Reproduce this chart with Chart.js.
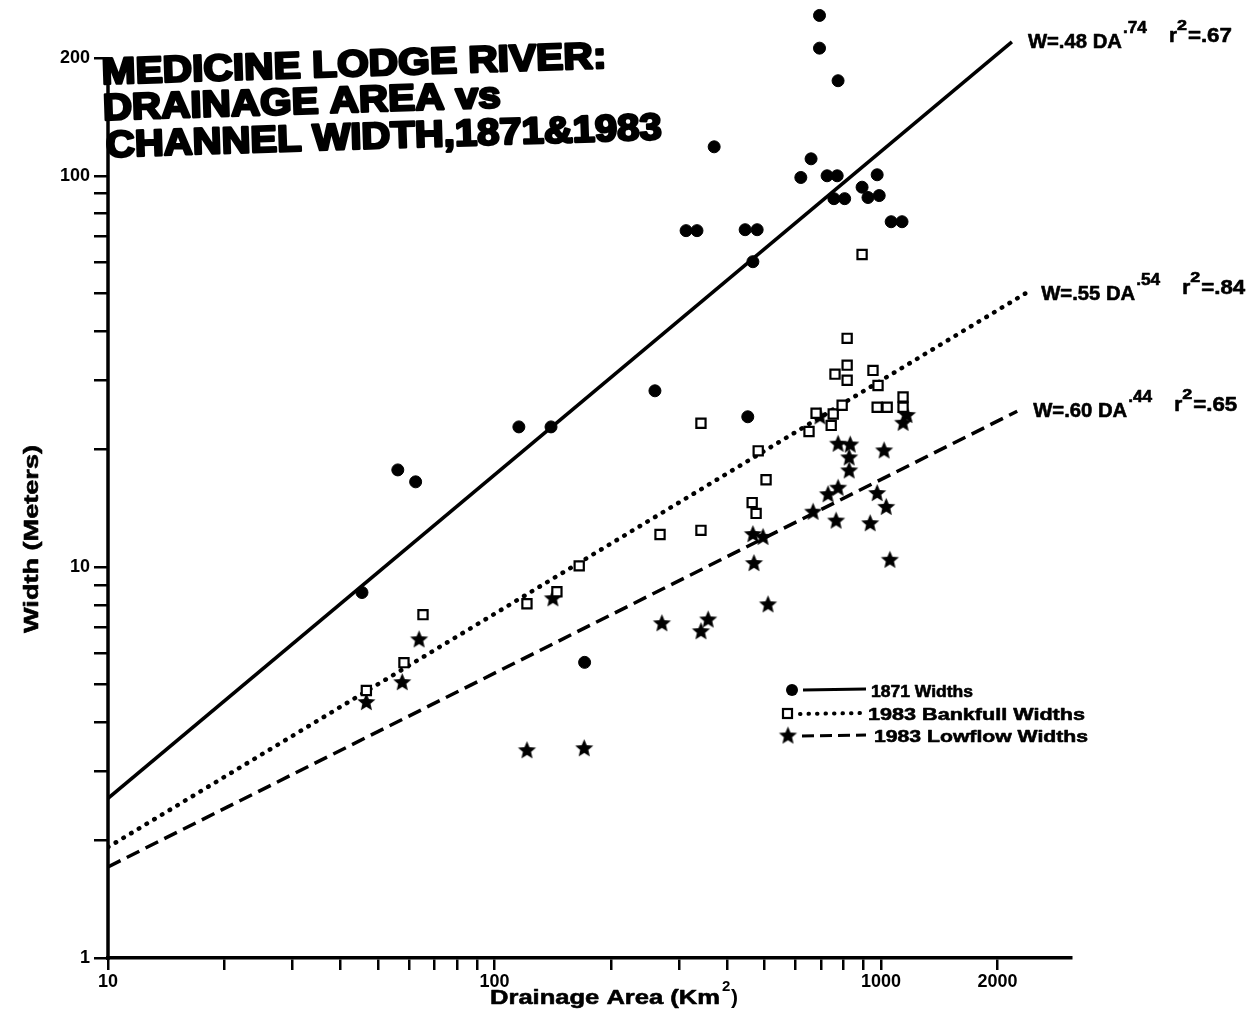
<!DOCTYPE html>
<html>
<head>
<meta charset="utf-8">
<script src="https://cdn.jsdelivr.net/npm/chart.js@4.4.0/dist/chart.umd.min.js"></script>
<style>
  html, body { margin: 0; background: #fff; }
</style>
</head>
<body>
<canvas id="chart" width="1247" height="1013"></canvas>
<script>
// 1871 widths (drainage area km2, width m)
var da1871 = [45.4, 56.2, 62.5, 115.6, 140, 171, 260, 313, 334, 370, 445, 478, 466, 452, 620,
              659, 693, 693, 774, 725, 770, 755, 805, 893, 925, 977, 989, 1062, 1133];
var w1871  = [8.6, 17.7, 16.5, 22.8, 22.8, 5.7, 28.2, 72.4, 72.4, 118.6, 72.8, 72.8, 60.3, 24.2, 99,
              110.5, 257, 212, 175, 100, 100, 87.4, 87.4, 93.5, 88, 100.6, 89, 76.3, 76.3];

// 1983 bankfull widths
var daBank = [46.6, 58.3, 65.3, 121.3, 145, 165.6, 268, 342, 342, 464, 475, 504, 481, 651, 679,
              743, 752, 793, 760, 817, 817, 817, 953, 982, 977, 1037, 1140, 1140, 893];
var wBank  = [4.83, 5.69, 7.55, 8.05, 8.64, 10.06, 12.1, 12.4, 23.3, 14.6, 13.7, 16.7, 19.8, 22.2, 24.7,
              23.0, 24.6, 25.9, 31.1, 32.8, 30.0, 38.4, 31.8, 29.1, 25.6, 25.6, 27.2, 25.6, 62.9];

// 1983 lowflow widths
var daLow = [46.6, 57.7, 63.8, 121.3, 170.6, 141.6, 271, 342, 357, 510, 469, 466, 495, 667, 729,
             774, 765, 937, 1054, 977, 1031, 1018, 774, 832, 827, 827, 1140, 1167, 695];
var wLow  = [4.50, 5.06, 6.51, 3.39, 3.43, 8.29, 7.16, 6.83, 7.32, 8.0, 10.2, 12.1, 11.9, 13.8, 15.3,
             15.9, 13.1, 12.9, 10.4, 15.4, 14.2, 19.8, 20.6, 20.5, 19.0, 17.6, 23.3, 24.4, 24.2];

// fitted lines (end points as drawn)
var fit1871DA = [10, 2180], fit1871W = [2.56, 220];
var fitBankDA = [10, 2360], fitBankW = [1.92, 50];
var fitLowDA  = [10, 2250], fitLowW  = [1.71, 25];

var equations = [
  ['.48', '.74', '.67'],
  ['.55', '.54', '.84'],
  ['.60', '.44', '.65']
];

var xTicks = [10, 20, 30, 40, 50, 60, 70, 80, 90, 100, 200, 300, 400, 500, 600, 700, 800, 900, 1000, 2000];
var xLabels = [10, 100, 1000, 2000];
var yTicks = [1, 2, 3, 4, 5, 6, 7, 8, 9, 10, 20, 30, 40, 50, 60, 70, 80, 90, 100, 200];
var yLabels = [1, 10, 100, 200];
var yAxisTop = 200;

var FONT = "'Liberation Sans Narrow', 'Liberation Sans', Arial, sans-serif";
var WIDE = "'Liberation Sans', Arial, sans-serif";

function pts(xs, ys) {
  return xs.map(function (x, i) { return { x: x, y: ys[i] }; });
}

function makeStar(r) {
  var c = document.createElement('canvas');
  var s = Math.ceil(r * 2 + 2);
  c.width = c.height = s;
  var g = c.getContext('2d');
  g.fillStyle = '#000';
  g.beginPath();
  for (var i = 0; i < 10; i++) {
    var rad = i % 2 ? r * 0.45 : r;
    var a = -Math.PI / 2 + i * Math.PI / 5;
    g.lineTo(s / 2 + rad * Math.cos(a), s / 2 + rad * Math.sin(a));
  }
  g.closePath();
  g.fill();
  return c;
}
var star = makeStar(9.5);

function fitText(ctx, text, x, y, width, font, heavy) {
  ctx.save();
  ctx.font = font;
  var w = ctx.measureText(text).width;
  ctx.translate(x, y);
  ctx.scale(width / w, 1);
  if (heavy) {
    ctx.lineWidth = heavy;
    ctx.lineJoin = 'round';
    ctx.strokeText(text, 0, 0);
  }
  ctx.fillText(text, 0, 0);
  ctx.restore();
  return width;
}

var annotations = {
  id: 'annotations',
  afterDraw: function (chart) {
    var ctx = chart.ctx;
    var xs = chart.scales.x, ys = chart.scales.y;
    ctx.save();
    ctx.fillStyle = '#000';
    ctx.strokeStyle = '#000';
    ctx.textBaseline = 'alphabetic';

    // y axis line, ending at the top tick
    ctx.lineWidth = 3.5;
    ctx.beginPath();
    ctx.moveTo(xs.left, ys.getPixelForValue(1) + 2);
    ctx.lineTo(xs.left, ys.getPixelForValue(yAxisTop) - 1);
    ctx.stroke();

    // title
    ctx.save();
    ctx.translate(102, 84);
    ctx.rotate(-0.032);
    var tf = 'bold 37px ' + WIDE;
    fitText(ctx, 'MEDICINE LODGE RIVER:', 0, 0, 505, tf, 2.6);
    fitText(ctx, 'DRAINAGE AREA vs', 0, 36, 398, tf, 2.6);
    fitText(ctx, 'CHANNEL WIDTH,1871&1983', 2, 73, 556, tf, 2.6);
    ctx.restore();

    // axis titles
    var af = 'bold 21px ' + FONT;
    fitText(ctx, 'Drainage Area (Km', 490, 1004, 230, af, 0.6);
    ctx.font = 'bold 15px ' + FONT;
    ctx.fillText('2', 722, 991);
    ctx.font = af;
    ctx.fillText(')', 731, 1004);

    ctx.save();
    ctx.translate(38, 633);
    ctx.rotate(-Math.PI / 2);
    fitText(ctx, 'Width (Meters)', 0, 0, 188, af, 0.6);
    ctx.restore();

    // equations at the line ends
    var ends = [[fit1871DA[1], fit1871W[1]], [fitBankDA[1], fitBankW[1]], [fitLowDA[1], fitLowW[1]]];
    ends.forEach(function (e, i) {
      var px = xs.getPixelForValue(e[0]) + 16;
      var py = ys.getPixelForValue(e[1]) + 6;
      var eq = equations[i];
      var w = fitText(ctx, 'W=' + eq[0] + ' DA', px, py, 94, 'bold 20px ' + FONT, 0.6);
      fitText(ctx, eq[1], px + w + 1, py - 15, 24, 'bold 17px ' + FONT, 0.6);
      fitText(ctx, 'r', px + 141, py - 6, 8, 'bold 20px ' + FONT, 0.6);
      fitText(ctx, '2', px + 149, py - 18, 10, 'bold 15px ' + FONT, 0.6);
      fitText(ctx, '=' + eq[2], px + 160, py - 6, 44, 'bold 20px ' + FONT, 0.6);
    });

    // legend
    var lf = 'bold 17px ' + WIDE;
    ctx.beginPath();
    ctx.arc(792, 690, 6, 0, Math.PI * 2);
    ctx.fill();
    ctx.lineWidth = 3;
    ctx.beginPath();
    ctx.moveTo(803, 690); ctx.lineTo(866, 689);
    ctx.stroke();
    fitText(ctx, '1871 Widths', 871, 697, 102, lf, 0.6);

    ctx.lineWidth = 2.2;
    ctx.fillStyle = '#fff';
    ctx.fillRect(783, 709, 9, 9);
    ctx.strokeRect(783, 709, 9, 9);
    ctx.fillStyle = '#000';
    ctx.save();
    ctx.lineWidth = 4;
    ctx.lineCap = 'round';
    ctx.setLineDash([0.5, 8]);
    ctx.beginPath();
    ctx.moveTo(800, 714); ctx.lineTo(866, 713);
    ctx.stroke();
    ctx.restore();
    fitText(ctx, '1983 Bankfull Widths', 868, 720, 217, lf, 0.6);

    ctx.drawImage(star, 788 - star.width / 2, 736 - star.height / 2);
    ctx.save();
    ctx.lineWidth = 3;
    ctx.setLineDash([12, 6]);
    ctx.beginPath();
    ctx.moveTo(802, 736); ctx.lineTo(866, 735);
    ctx.stroke();
    ctx.restore();
    fitText(ctx, '1983 Lowflow Widths', 874, 742, 214, lf, 0.6);

    ctx.restore();
  }
};

var tickFont = { family: FONT, size: 18, weight: 'bold' };

new Chart(document.getElementById('chart'), {
  type: 'scatter',
  data: {
    datasets: [
      {
        label: '1871 Widths',
        data: pts(da1871, w1871),
        pointStyle: 'circle',
        pointRadius: 6,
        backgroundColor: '#000',
        borderColor: '#000',
        clip: false
      },
      {
        label: '1983 Bankfull Widths',
        data: pts(daBank, wBank),
        pointStyle: 'rect',
        pointRadius: 6.5,
        borderWidth: 2.2,
        backgroundColor: '#fff',
        borderColor: '#000'
      },
      {
        label: '1983 Lowflow Widths',
        data: pts(daLow, wLow),
        pointStyle: star,
        pointRadius: 9,
        backgroundColor: '#000',
        borderColor: '#000'
      },
      {
        label: 'fit 1871',
        data: pts(fit1871DA, fit1871W),
        showLine: true,
        pointRadius: 0,
        borderColor: '#000',
        borderWidth: 3.5
      },
      {
        label: 'fit bankfull',
        data: pts(fitBankDA, fitBankW),
        showLine: true,
        pointRadius: 0,
        borderColor: '#000',
        borderWidth: 4.5,
        borderDash: [0.5, 8.5],
        borderCapStyle: 'round'
      },
      {
        label: 'fit lowflow',
        data: pts(fitLowDA, fitLowW),
        showLine: true,
        pointRadius: 0,
        borderColor: '#000',
        borderWidth: 3.5,
        borderDash: [14, 7]
      }
    ]
  },
  options: {
    responsive: false,
    animation: false,
    events: [],
    layout: { padding: { left: 0, top: 3, right: 176, bottom: 0 } },
    plugins: {
      legend: { display: false },
      tooltip: { enabled: false }
    },
    scales: {
      x: {
        type: 'logarithmic',
        min: 10,
        max: 3100,
        afterBuildTicks: function (s) {
          s.ticks = xTicks.map(function (v) { return { value: v }; });
        },
        afterFit: function (s) { s.height = 55; },
        ticks: {
          autoSkip: false,
          maxRotation: 0,
          padding: 1,
          color: '#000',
          font: tickFont,
          callback: function (v) { return xLabels.indexOf(v) >= 0 ? String(v) : ''; }
        },
        grid: { drawOnChartArea: false, tickLength: 12, color: '#000', lineWidth: 2.5 },
        border: { color: '#000', width: 3.5 }
      },
      y: {
        type: 'logarithmic',
        min: 1,
        max: 258,
        afterBuildTicks: function (s) {
          s.ticks = yTicks.map(function (v) { return { value: v }; });
        },
        afterFit: function (s) { s.width = 108; },
        ticks: {
          autoSkip: false,
          padding: 4,
          color: '#000',
          font: tickFont,
          callback: function (v) { return yLabels.indexOf(v) >= 0 ? String(v) : ''; }
        },
        grid: { drawOnChartArea: false, tickLength: 14, color: '#000', lineWidth: 2.5 },
        border: { display: false }
      }
    }
  },
  plugins: [annotations]
});
</script>
</body>
</html>
